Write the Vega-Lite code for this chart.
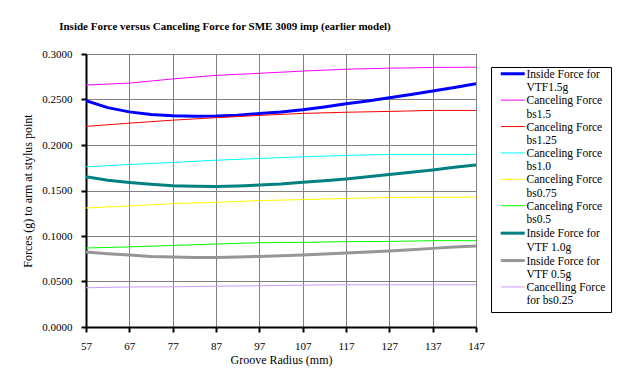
{
  "$schema": "https://vega.github.io/schema/vega-lite/v6.json",
  "width": 390,
  "height": 273,
  "autosize": {"type": "none"},
  "padding": {"left": 86, "top": 54, "right": 145, "bottom": 49},
  "background": "white",
  "title": {
    "text": "Inside Force versus Canceling Force for SME 3009 imp (earlier model)",
    "font": "Liberation Serif",
    "fontSize": 11,
    "fontWeight": "bold",
    "color": "black",
    "anchor": "middle",
    "dx": -56,
    "offset": 16
  },
  "data": {
    "values": [
      {"s": "Inside Force for|VTF1.5g", "r": 57, "f": 0.2486},
      {"s": "Inside Force for|VTF1.5g", "r": 62, "f": 0.2411},
      {"s": "Inside Force for|VTF1.5g", "r": 67, "f": 0.2364},
      {"s": "Inside Force for|VTF1.5g", "r": 72, "f": 0.2336},
      {"s": "Inside Force for|VTF1.5g", "r": 77, "f": 0.2322},
      {"s": "Inside Force for|VTF1.5g", "r": 82, "f": 0.2317},
      {"s": "Inside Force for|VTF1.5g", "r": 87, "f": 0.2319},
      {"s": "Inside Force for|VTF1.5g", "r": 92, "f": 0.2328},
      {"s": "Inside Force for|VTF1.5g", "r": 97, "f": 0.2345},
      {"s": "Inside Force for|VTF1.5g", "r": 102, "f": 0.2363},
      {"s": "Inside Force for|VTF1.5g", "r": 107, "f": 0.2387},
      {"s": "Inside Force for|VTF1.5g", "r": 112, "f": 0.2418},
      {"s": "Inside Force for|VTF1.5g", "r": 117, "f": 0.2454},
      {"s": "Inside Force for|VTF1.5g", "r": 122, "f": 0.2484},
      {"s": "Inside Force for|VTF1.5g", "r": 127, "f": 0.2519},
      {"s": "Inside Force for|VTF1.5g", "r": 132, "f": 0.2554},
      {"s": "Inside Force for|VTF1.5g", "r": 137, "f": 0.2593},
      {"s": "Inside Force for|VTF1.5g", "r": 142, "f": 0.2631},
      {"s": "Inside Force for|VTF1.5g", "r": 147, "f": 0.2673},

      {"s": "Canceling Force|bs1.5", "r": 57, "f": 0.2659},
      {"s": "Canceling Force|bs1.5", "r": 67, "f": 0.2680},
      {"s": "Canceling Force|bs1.5", "r": 77, "f": 0.2726},
      {"s": "Canceling Force|bs1.5", "r": 87, "f": 0.2765},
      {"s": "Canceling Force|bs1.5", "r": 97, "f": 0.2788},
      {"s": "Canceling Force|bs1.5", "r": 107, "f": 0.2812},
      {"s": "Canceling Force|bs1.5", "r": 117, "f": 0.2833},
      {"s": "Canceling Force|bs1.5", "r": 127, "f": 0.2844},
      {"s": "Canceling Force|bs1.5", "r": 137, "f": 0.2852},
      {"s": "Canceling Force|bs1.5", "r": 147, "f": 0.2855},

      {"s": "Canceling Force|bs1.25", "r": 57, "f": 0.2205},
      {"s": "Canceling Force|bs1.25", "r": 67, "f": 0.2240},
      {"s": "Canceling Force|bs1.25", "r": 77, "f": 0.2273},
      {"s": "Canceling Force|bs1.25", "r": 87, "f": 0.2300},
      {"s": "Canceling Force|bs1.25", "r": 97, "f": 0.2325},
      {"s": "Canceling Force|bs1.25", "r": 107, "f": 0.2347},
      {"s": "Canceling Force|bs1.25", "r": 117, "f": 0.2360},
      {"s": "Canceling Force|bs1.25", "r": 127, "f": 0.2369},
      {"s": "Canceling Force|bs1.25", "r": 137, "f": 0.2380},
      {"s": "Canceling Force|bs1.25", "r": 147, "f": 0.2380},

      {"s": "Canceling Force|bs1.0", "r": 57, "f": 0.1760},
      {"s": "Canceling Force|bs1.0", "r": 67, "f": 0.1786},
      {"s": "Canceling Force|bs1.0", "r": 77, "f": 0.1808},
      {"s": "Canceling Force|bs1.0", "r": 87, "f": 0.1833},
      {"s": "Canceling Force|bs1.0", "r": 97, "f": 0.1852},
      {"s": "Canceling Force|bs1.0", "r": 107, "f": 0.1870},
      {"s": "Canceling Force|bs1.0", "r": 117, "f": 0.1885},
      {"s": "Canceling Force|bs1.0", "r": 127, "f": 0.1896},
      {"s": "Canceling Force|bs1.0", "r": 137, "f": 0.1896},
      {"s": "Canceling Force|bs1.0", "r": 147, "f": 0.1896},

      {"s": "Canceling Force|bs0.75", "r": 57, "f": 0.1308},
      {"s": "Canceling Force|bs0.75", "r": 67, "f": 0.1330},
      {"s": "Canceling Force|bs0.75", "r": 77, "f": 0.1356},
      {"s": "Canceling Force|bs0.75", "r": 87, "f": 0.1370},
      {"s": "Canceling Force|bs0.75", "r": 97, "f": 0.1389},
      {"s": "Canceling Force|bs0.75", "r": 107, "f": 0.1400},
      {"s": "Canceling Force|bs0.75", "r": 117, "f": 0.1412},
      {"s": "Canceling Force|bs0.75", "r": 127, "f": 0.1423},
      {"s": "Canceling Force|bs0.75", "r": 137, "f": 0.1426},
      {"s": "Canceling Force|bs0.75", "r": 147, "f": 0.1426},

      {"s": "Canceling Force|bs0.5", "r": 57, "f": 0.0868},
      {"s": "Canceling Force|bs0.5", "r": 67, "f": 0.0880},
      {"s": "Canceling Force|bs0.5", "r": 77, "f": 0.0896},
      {"s": "Canceling Force|bs0.5", "r": 87, "f": 0.0912},
      {"s": "Canceling Force|bs0.5", "r": 97, "f": 0.0926},
      {"s": "Canceling Force|bs0.5", "r": 107, "f": 0.0930},
      {"s": "Canceling Force|bs0.5", "r": 117, "f": 0.0938},
      {"s": "Canceling Force|bs0.5", "r": 127, "f": 0.0940},
      {"s": "Canceling Force|bs0.5", "r": 137, "f": 0.0949},
      {"s": "Canceling Force|bs0.5", "r": 147, "f": 0.0949},

      {"s": "Inside Force for|VTF 1.0g", "r": 57, "f": 0.1650},
      {"s": "Inside Force for|VTF 1.0g", "r": 62, "f": 0.1612},
      {"s": "Inside Force for|VTF 1.0g", "r": 67, "f": 0.1588},
      {"s": "Inside Force for|VTF 1.0g", "r": 72, "f": 0.1569},
      {"s": "Inside Force for|VTF 1.0g", "r": 77, "f": 0.1552},
      {"s": "Inside Force for|VTF 1.0g", "r": 82, "f": 0.1548},
      {"s": "Inside Force for|VTF 1.0g", "r": 87, "f": 0.1545},
      {"s": "Inside Force for|VTF 1.0g", "r": 92, "f": 0.1550},
      {"s": "Inside Force for|VTF 1.0g", "r": 97, "f": 0.1560},
      {"s": "Inside Force for|VTF 1.0g", "r": 102, "f": 0.1572},
      {"s": "Inside Force for|VTF 1.0g", "r": 107, "f": 0.1590},
      {"s": "Inside Force for|VTF 1.0g", "r": 112, "f": 0.1606},
      {"s": "Inside Force for|VTF 1.0g", "r": 117, "f": 0.1627},
      {"s": "Inside Force for|VTF 1.0g", "r": 122, "f": 0.1650},
      {"s": "Inside Force for|VTF 1.0g", "r": 127, "f": 0.1676},
      {"s": "Inside Force for|VTF 1.0g", "r": 132, "f": 0.1700},
      {"s": "Inside Force for|VTF 1.0g", "r": 137, "f": 0.1726},
      {"s": "Inside Force for|VTF 1.0g", "r": 142, "f": 0.1755},
      {"s": "Inside Force for|VTF 1.0g", "r": 147, "f": 0.1781},

      {"s": "Inside Force for|VTF 0.5g", "r": 57, "f": 0.0824},
      {"s": "Inside Force for|VTF 0.5g", "r": 62, "f": 0.0806},
      {"s": "Inside Force for|VTF 0.5g", "r": 67, "f": 0.0790},
      {"s": "Inside Force for|VTF 0.5g", "r": 72, "f": 0.0776},
      {"s": "Inside Force for|VTF 0.5g", "r": 77, "f": 0.0768},
      {"s": "Inside Force for|VTF 0.5g", "r": 82, "f": 0.0765},
      {"s": "Inside Force for|VTF 0.5g", "r": 87, "f": 0.0765},
      {"s": "Inside Force for|VTF 0.5g", "r": 92, "f": 0.0768},
      {"s": "Inside Force for|VTF 0.5g", "r": 97, "f": 0.0776},
      {"s": "Inside Force for|VTF 0.5g", "r": 102, "f": 0.0783},
      {"s": "Inside Force for|VTF 0.5g", "r": 107, "f": 0.0790},
      {"s": "Inside Force for|VTF 0.5g", "r": 112, "f": 0.0801},
      {"s": "Inside Force for|VTF 0.5g", "r": 117, "f": 0.0812},
      {"s": "Inside Force for|VTF 0.5g", "r": 122, "f": 0.0824},
      {"s": "Inside Force for|VTF 0.5g", "r": 127, "f": 0.0836},
      {"s": "Inside Force for|VTF 0.5g", "r": 132, "f": 0.0850},
      {"s": "Inside Force for|VTF 0.5g", "r": 137, "f": 0.0864},
      {"s": "Inside Force for|VTF 0.5g", "r": 142, "f": 0.0879},
      {"s": "Inside Force for|VTF 0.5g", "r": 147, "f": 0.0889},

      {"s": "Cancelling Force|for bs0.25", "r": 57, "f": 0.0431},
      {"s": "Cancelling Force|for bs0.25", "r": 67, "f": 0.0440},
      {"s": "Cancelling Force|for bs0.25", "r": 77, "f": 0.0442},
      {"s": "Cancelling Force|for bs0.25", "r": 87, "f": 0.0448},
      {"s": "Cancelling Force|for bs0.25", "r": 97, "f": 0.0453},
      {"s": "Cancelling Force|for bs0.25", "r": 107, "f": 0.0460},
      {"s": "Cancelling Force|for bs0.25", "r": 117, "f": 0.0464},
      {"s": "Cancelling Force|for bs0.25", "r": 127, "f": 0.0464},
      {"s": "Cancelling Force|for bs0.25", "r": 137, "f": 0.0464},
      {"s": "Cancelling Force|for bs0.25", "r": 147, "f": 0.0464}
    ]
  },
  "mark": {"type": "line", "clip": true},
  "encoding": {
    "x": {
      "field": "r",
      "type": "quantitative",
      "scale": {"domain": [57, 147], "nice": false, "zero": false},
      "axis": {
        "values": [57, 67, 77, 87, 97, 107, 117, 127, 137, 147],
        "title": "Groove Radius (mm)",
        "labelPadding": 8,
        "titlePadding": 3
      }
    },
    "y": {
      "field": "f",
      "type": "quantitative",
      "scale": {"domain": [0, 0.3], "nice": false},
      "axis": {
        "values": [0, 0.05, 0.1, 0.15, 0.2, 0.25, 0.3],
        "format": ".4f",
        "title": "Forces (g) to arm at stylus point",
        "labelPadding": 9,
        "titlePadding": 7
      }
    },
    "color": {
      "field": "s",
      "type": "nominal",
      "scale": {
        "domain": ["Inside Force for|VTF1.5g", "Canceling Force|bs1.5", "Canceling Force|bs1.25", "Canceling Force|bs1.0", "Canceling Force|bs0.75", "Canceling Force|bs0.5", "Inside Force for|VTF 1.0g", "Inside Force for|VTF 0.5g", "Cancelling Force|for bs0.25"],
        "range": ["#0000FF", "#FF00FF", "#FF0000", "#00FFFF", "#FFFF00", "#00FF00", "#008080", "#969696", "#CC99FF"]
      },
      "legend": {
        "title": null,
        "orient": "none",
        "legendX": 405,
        "legendY": 13,
        "labelExpr": "split(datum.label, '|')",
        "labelFont": "Liberation Serif",
        "labelFontSize": 11.5,
        "labelColor": "black",
        "labelBaseline": "alphabetic",
        "symbolType": "M-6,-2H6",
        "symbolSize": 16,
        "symbolOffset": 11,
        "labelOffset": 8
      }
    },
    "strokeWidth": {
      "field": "s",
      "type": "nominal",
      "scale": {
        "type": "ordinal",
        "domain": ["Inside Force for|VTF1.5g", "Canceling Force|bs1.5", "Canceling Force|bs1.25", "Canceling Force|bs1.0", "Canceling Force|bs0.75", "Canceling Force|bs0.5", "Inside Force for|VTF 1.0g", "Inside Force for|VTF 0.5g", "Cancelling Force|for bs0.25"],
        "range": [3, 1, 1, 1, 1, 1, 3, 3, 1]
      },
      "legend": {
        "title": null,
        "orient": "none",
        "legendX": 405,
        "legendY": 13,
        "labelExpr": "split(datum.label, '|')",
        "labelFont": "Liberation Serif",
        "labelFontSize": 11.5,
        "labelColor": "black",
        "labelBaseline": "alphabetic",
        "symbolType": "M-6,-2H6",
        "symbolSize": 16,
        "symbolOffset": 11,
        "labelOffset": 8
      }
    }
  },
  "config": {
    "font": "Liberation Serif",
    "view": {"stroke": "black", "strokeWidth": 1},
    "axis": {
      "labelFont": "Liberation Serif",
      "labelFontSize": 11,
      "labelColor": "black",
      "titleFont": "Liberation Serif",
      "titleFontSize": 12,
      "titleFontWeight": "normal",
      "titleColor": "black",
      "domainColor": "black",
      "domainWidth": 2,
      "tickColor": "black",
      "tickWidth": 2,
      "tickSize": 5,
      "gridColor": "#808080",
      "gridWidth": 1,
      "gridOpacity": 1,
      "labelFlush": false,
      "labelOverlap": false
    },
    "legend": {
      "strokeColor": "black",
      "strokeWidth": 1,
      "padding": 5,
      "labelLimit": 200,
      "rowPadding": 0.4,
      "labelOverlap": false
    }
  }
}
